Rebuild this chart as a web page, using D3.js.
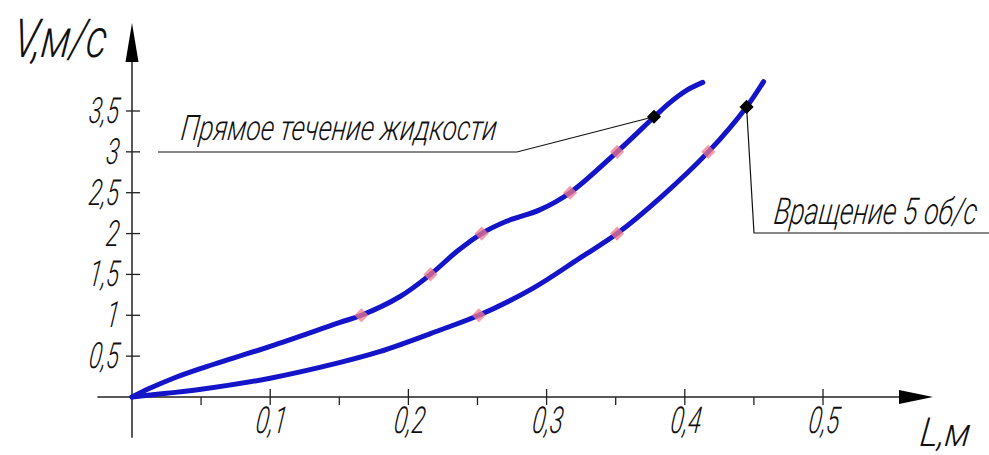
<!DOCTYPE html>
<html><head><meta charset="utf-8">
<script src="https://cdn.jsdelivr.net/npm/d3@7"></script>
<style>
html,body{margin:0;padding:0;background:#fff;}
svg{display:block;}
text{font-family:"Roboto","Liberation Sans Narrow","DejaVu Sans Condensed",sans-serif;font-style:italic;font-weight:300;fill:#111;}
</style></head>
<body>
<svg id="chart" width="989" height="455"></svg>
<script>
// ---- data ----
const directL = [0, 0.012, 0.03, 0.05, 0.1, 0.15, 0.166, 0.194, 0.216, 0.235, 0.253, 0.271, 0.295, 0.317, 0.351, 0.378, 0.389, 0.401, 0.413];
const directV = [0, 0.1, 0.23, 0.35, 0.62, 0.91, 1.0, 1.23, 1.5, 1.78, 2.0, 2.15, 2.29, 2.5, 3.0, 3.43, 3.6, 3.75, 3.85];
const rotL = [0, 0.025, 0.05, 0.1, 0.15, 0.179, 0.223, 0.251, 0.290, 0.324, 0.351, 0.383, 0.417, 0.4447, 0.457];
const rotV = [0, 0.045, 0.094, 0.23, 0.42, 0.554, 0.82, 1.0, 1.33, 1.70, 2.0, 2.45, 3.0, 3.55, 3.86];
const directMarkL = [0.166, 0.216, 0.253, 0.317, 0.351];
const directMarkV = [1, 1.5, 2, 2.5, 3];
const rotMarkL = [0.251, 0.351, 0.417];
const rotMarkV = [1, 2, 3];
const directLabel = "Прямое течение жидкости";
const rotLabel = "Вращение 5 об/с";
const directAnchor = [0.3777, 3.43];
const rotAnchor = [0.4447, 3.55];
const xTicks = [0.1, 0.2, 0.3, 0.4, 0.5];
const xTickLabels = ["0,1", "0,2", "0,3", "0,4", "0,5"];
const xMinorTicks = [0.05, 0.15, 0.25, 0.35, 0.45];
const yTicks = [0.5, 1, 1.5, 2, 2.5, 3, 3.5];
const yTickLabels = ["0,5", "1", "1,5", "2", "2,5", "3", "3,5"];
const xTitle = "L,м";
const yTitle = "V,м/с";

// ---- layout ----
const svg = d3.select("#chart");
const x = d3.scaleLinear().domain([0, 0.5]).range([132, 823]);
const y = d3.scaleLinear().domain([0, 3.5]).range([397, 111]);
const ink = "#222";
const blue = "#1414c8";
const SKEW = -7;

// place a text at (px,py), horizontally squeezed by factor k or to a fixed width
function addText(parent, str, px, py, size, anchor, k, width) {
  const t = parent.append("text").attr("font-size", size).attr("text-anchor", anchor || "start").text(str);
  const w = t.node().getComputedTextLength();
  const s = width ? width / w : k;
  t.attr("transform", `translate(${px},${py}) skewX(${SKEW}) scale(${s},1)`);
  return t;
}

// axes
const x0 = x(0), y0 = y(0);
svg.append("line").attr("x1", x(-0.025)).attr("x2", 905).attr("y1", y0).attr("y2", y0)
  .attr("stroke", ink).attr("stroke-width", 1.5);
svg.append("path").attr("d", `M933,${y0} L899,${y0 - 7} L899,${y0 + 7} Z`).attr("fill", "#000");
svg.append("line").attr("x1", x0).attr("x2", x0).attr("y1", y(-0.5)).attr("y2", 56)
  .attr("stroke", ink).attr("stroke-width", 1.5);
svg.append("path").attr("d", `M${x0},23 L${x0 - 6.5},62 L${x0 + 6.5},62 Z`).attr("fill", "#000");

// ticks
svg.selectAll(".xt").data(xTicks).join("line")
  .attr("x1", d => x(d)).attr("x2", d => x(d)).attr("y1", y0 - 8).attr("y2", y0 + 8)
  .attr("stroke", ink).attr("stroke-width", 1.3);
svg.selectAll(".xm").data(xMinorTicks).join("line")
  .attr("x1", d => x(d)).attr("x2", d => x(d)).attr("y1", y0).attr("y2", y0 + 8)
  .attr("stroke", ink).attr("stroke-width", 1.3);
svg.selectAll(".yt").data(yTicks).join("line")
  .attr("x1", x0 - 6).attr("x2", x0 + 8).attr("y1", d => y(d)).attr("y2", d => y(d))
  .attr("stroke", ink).attr("stroke-width", 1.3);

// tick labels
const gx = svg.append("g");
xTicks.forEach((d, i) => addText(gx, xTickLabels[i], x(d), 433, 37, "middle", 0.66));
const gy = svg.append("g");
yTicks.forEach((d, i) => addText(gy, yTickLabels[i], 118, y(d) + 12, 36, "end", 0.66));

// titles
addText(svg, yTitle, 12, 57, 54, "start", null, 93);
addText(svg, xTitle, 919, 446, 40, "start", null, 50);

// curves
const line = d3.line().x(d => x(d[0])).y(d => y(d[1])).curve(d3.curveCatmullRom.alpha(0.5));
svg.append("path").datum(directL.map((l, i) => [l, directV[i]])).attr("d", line)
  .attr("fill", "none").attr("stroke", blue).attr("stroke-width", 5).attr("stroke-linecap", "round");
svg.append("path").datum(rotL.map((l, i) => [l, rotV[i]])).attr("d", line)
  .attr("fill", "none").attr("stroke", blue).attr("stroke-width", 5).attr("stroke-linecap", "round");

// pink markers
const pink = directMarkL.map((l, i) => [l, directMarkV[i]]).concat(rotMarkL.map((l, i) => [l, rotMarkV[i]]));
svg.selectAll(".pm").data(pink).join("rect")
  .attr("x", -5).attr("y", -5).attr("width", 10).attr("height", 10)
  .attr("transform", d => `translate(${x(d[0])},${y(d[1])}) rotate(45)`)
  .attr("fill", "rgba(240,120,140,0.75)");

// leader lines
const dA = [x(directAnchor[0]), y(directAnchor[1])];
svg.append("polyline").attr("points", `${dA[0]},${dA[1]} 517,152 158,152`)
  .attr("fill", "none").attr("stroke", "#111").attr("stroke-width", 1.2);
const rA = [x(rotAnchor[0]), y(rotAnchor[1])];
svg.append("polyline").attr("points", `${rA[0]},${rA[1]} 754,233 989,233`)
  .attr("fill", "none").attr("stroke", "#111").attr("stroke-width", 1.2);

// black anchor markers
svg.selectAll(".bm").data([directAnchor, rotAnchor]).join("rect")
  .attr("x", -5).attr("y", -5).attr("width", 10).attr("height", 10)
  .attr("transform", d => `translate(${x(d[0])},${y(d[1])}) rotate(45)`)
  .attr("fill", "#000");

// annotation labels
addText(svg, directLabel, 180, 140, 35, "start", null, 316);
addText(svg, rotLabel, 773, 224, 37, "start", null, 203);
</script>
</body></html>
